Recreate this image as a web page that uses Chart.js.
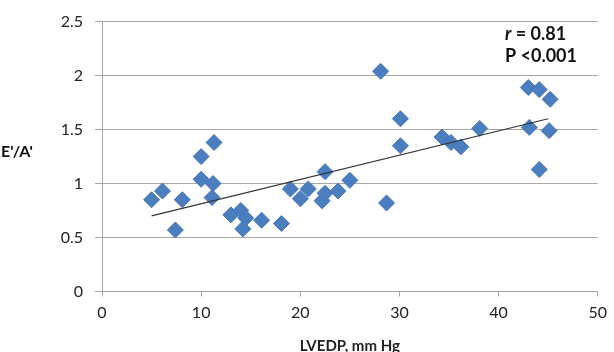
<!DOCTYPE html>
<html>
<head>
<meta charset="utf-8">
<script src="https://cdn.jsdelivr.net/npm/chart.js@4"></script>
<style>
  html, body { margin: 0; padding: 0; background: #fff; }
  #wrap { width: 614px; height: 352px; }
</style>
</head>
<body>
<div id="wrap"><canvas id="grafico"></canvas></div>
<script>
// valores
const lvedp = [5.0, 6.1, 7.4, 8.1, 10.0, 11.3, 10.0, 11.2, 11.1, 13.0, 14.0, 14.2, 14.5, 16.1, 18.1,
               19.0, 20.0, 20.8, 22.2, 22.5, 22.5, 23.8, 25.0, 28.1, 28.7, 30.1, 30.1,
               34.3, 35.2, 36.2, 38.1, 43.0, 44.1, 45.2, 43.1, 45.1, 44.1];
const eA = [0.85, 0.93, 0.57, 0.85, 1.25, 1.38, 1.04, 1.00, 0.87, 0.71, 0.75, 0.58, 0.68, 0.66, 0.63,
            0.95, 0.86, 0.95, 0.84, 0.91, 1.11, 0.93, 1.03, 2.04, 0.82, 1.60, 1.35,
            1.43, 1.38, 1.34, 1.51, 1.89, 1.87, 1.78, 1.52, 1.49, 1.13];
// linea de tendencia (extremos)
const tendenciaX = [5, 45];
const tendenciaY = [0.70, 1.60];
const ticksX = [0, 10, 20, 30, 40, 50];
const ticksY = [0, 0.5, 1, 1.5, 2, 2.5];

const fuente = 'Lato, "Open Sans", sans-serif';

const textos = {
    id: 'textos',
    afterDraw(chart) {
        const c = chart.ctx;
        c.save();
        c.fillStyle = '#111';
        c.textBaseline = 'middle';
        c.textAlign = 'left';
        // titulo eje y
        c.font = 'bold 16px ' + fuente;
        c.fillText("E'/A'", 1, 152);
        // r y P
        c.font = 'italic bold 18px ' + fuente;
        c.fillText('r', 505, 34);
        const w = c.measureText('r').width;
        c.font = 'bold 18px ' + fuente;
        c.fillText(' = 0.81', 505 + w, 34);
        c.fillText('P <0.001', 505, 56);
        c.restore();
    }
};

const ctx = document.getElementById('grafico').getContext('2d');

const miGrafico = new Chart(ctx, {
    type: 'scatter',
    data: {
        datasets: [{
            label: 'tendencia',
            type: 'line',
            data: tendenciaX.map((x, i) => ({ x, y: tendenciaY[i] })),
            borderColor: '#333',
            borderWidth: 1.2,
            pointRadius: 0,
            order: 0
        }, {
            label: "E'/A'",
            data: lvedp.map((x, i) => ({ x, y: eA[i] })),
            pointStyle: 'rectRot',
            pointRadius: 8,
            pointHoverRadius: 8,
            backgroundColor: '#4a7ebf',
            borderColor: '#4476b6',
            borderWidth: 1,
            order: 1
        }]
    },
    options: {
        responsive: true,
        maintainAspectRatio: false,
        animation: false,
        layout: { padding: { left: 0, right: 8, top: 20, bottom: 0 } },
        plugins: {
            legend: { display: false },
            tooltip: { enabled: false }
        },
        scales: {
            x: {
                type: 'linear',
                min: 0,
                max: 50,
                afterBuildTicks: s => { s.ticks = ticksX.map(v => ({ value: v })); },
                grid: {
                    display: true,
                    drawOnChartArea: false,
                    drawTicks: true,
                    tickLength: 5,
                    color: '#a6a6a6'
                },
                border: { color: '#a6a6a6' },
                ticks: {
                    color: '#222',
                    font: { family: fuente, size: 16 },
                    padding: 7,
                    maxRotation: 0
                },
                title: {
                    display: true,
                    text: 'LVEDP, mm Hg',
                    color: '#222',
                    font: { family: fuente, size: 15, weight: 'bold' },
                    padding: { top: 4, bottom: -3 }
                },
                afterFit: s => { s.height = 60.5; }
            },
            y: {
                min: 0,
                max: 2.5,
                afterBuildTicks: s => { s.ticks = ticksY.map(v => ({ value: v })); },
                grid: {
                    color: '#a6a6a6',
                    tickLength: 7
                },
                border: { color: '#a6a6a6' },
                ticks: {
                    color: '#222',
                    font: { family: fuente, size: 16 },
                    padding: 12,
                    callback: v => String(v)
                },
                afterFit: s => { s.width = 102; }
            }
        }
    },
    plugins: [textos]
});
</script>
</body>
</html>
